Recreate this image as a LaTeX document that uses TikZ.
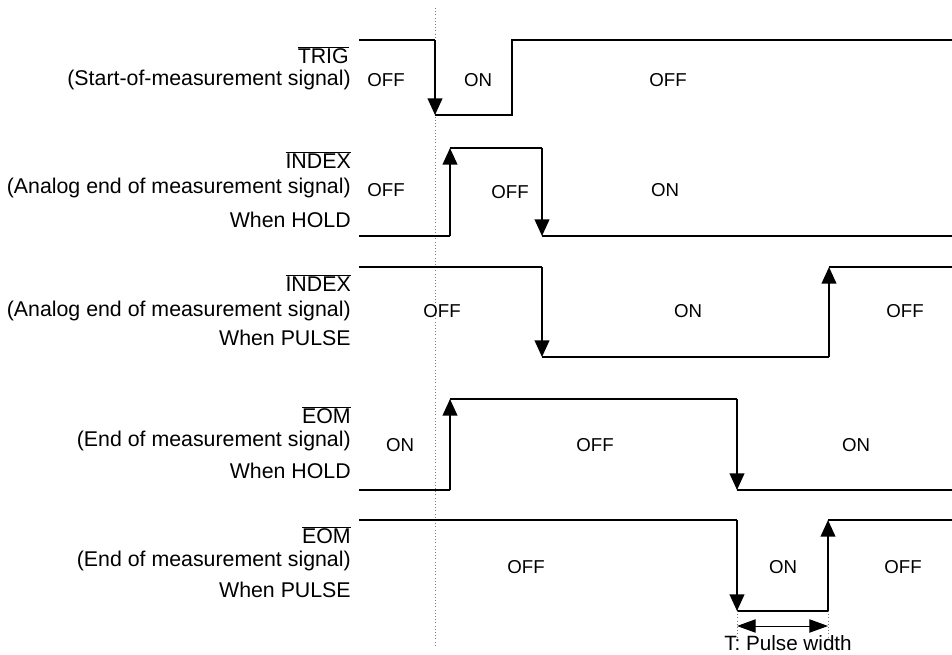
\documentclass[tikz,border=0pt]{standalone}
\usepackage{fontspec}
\setmainfont{Liberation Sans}
\usetikzlibrary{arrows.meta,positioning,calc}
\usepackage{xcolor}
\definecolor{Ink}{HTML}{000000}
\definecolor{Guide}{HTML}{7A7A7A}
\tikzset{
 wave/.style={draw=Ink, line width=1.5pt},
 edgearrow/.style={wave, -{Triangle[length=12.5pt,width=11pt]}},
 signame/.style={anchor=east, inner sep=0pt, font=\fontsize{16}{19}\selectfont},
 state/.style={inner sep=0pt, font=\fontsize{14}{16}\selectfont},
 guide/.style={draw=Guide, line width=0.4pt, dotted},
 dimarrow/.style={draw=Ink, line width=0.7pt, {Triangle[length=14pt,width=10pt]}-{Triangle[length=14pt,width=10pt]}}
}

\begin{document}
\begin{tikzpicture}[x=0.75pt,y=-0.75pt]
\useasboundingbox (0,0) rectangle (952,654);
% reference line at the trigger
\draw[guide] (435,8) -- (435,645);
% TRIG
\node[signame] (trig) at (349,55) {$\overline{\mbox{TRIG}}$};
\node[signame] (trigtxt) at (351,80) {(Start-of-measurement signal)};
\draw[wave] (359,40) -- (435,40);
\draw[edgearrow] (435,40) -- (435,115);
\draw[wave] (435,115) -- (512,115) -- (512,40) -- (952,40);
\node[state] (t1) at (386,80) {OFF};
\node[state] (t2) at (478,80) {ON};
\node[state] (t3) at (668,80) {OFF};
% INDEX, hold
\node[signame] (idxh) at (351,160) {$\overline{\mbox{INDEX}}$};
\node[signame] (idxhtxt) at (351,188) {(Analog end of measurement signal)};
\node[signame] (idxhmode) at (351,220) {When HOLD};
\draw[wave] (359,236) -- (450,236);
\draw[edgearrow] (450,236) -- (450,148);
\draw[wave] (450,148) -- (542,148);
\draw[edgearrow] (542,148) -- (542,236);
\draw[wave] (542,236) -- (952,236);
\node[state] (ih1) at (386,190) {OFF};
\node[state] (ih2) at (510,192) {OFF};
\node[state] (ih3) at (665,190) {ON};
% INDEX, pulse
\node[signame] (idxp) at (351,283) {$\overline{\mbox{INDEX}}$};
\node[signame] (idxptxt) at (351,311) {(Analog end of measurement signal)};
\node[signame] (idxpmode) at (351,338) {When PULSE};
\draw[wave] (359,267) -- (542,267);
\draw[edgearrow] (542,267) -- (542,357);
\draw[wave] (542,357) -- (829,357);
\draw[edgearrow] (829,357) -- (829,267);
\draw[wave] (829,267) -- (952,267);
\node[state] (ip1) at (442,311) {OFF};
\node[state] (ip2) at (688,311) {ON};
\node[state] (ip3) at (905,311) {OFF};
% EOM, hold
\node[signame] (eomh) at (351,415) {$\overline{\mbox{EOM}}$};
\node[signame] (eomhtxt) at (351,441) {(End of measurement signal)};
\node[signame] (eomhmode) at (351,471) {When HOLD};
\draw[wave] (359,490) -- (450,490);
\draw[edgearrow] (450,490) -- (450,399);
\draw[wave] (450,399) -- (737,399);
\draw[edgearrow] (737,399) -- (737,490);
\draw[wave] (737,490) -- (952,490);
\node[state] (eh1) at (400,445) {ON};
\node[state] (eh2) at (595,445) {OFF};
\node[state] (eh3) at (856,445) {ON};
% EOM, pulse
\node[signame] (eomp) at (351,535) {$\overline{\mbox{EOM}}$};
\node[signame] (eomptxt) at (351,561) {(End of measurement signal)};
\node[signame] (eompmode) at (351,590) {When PULSE};
\draw[wave] (359,520) -- (737,520);
\draw[edgearrow] (737,520) -- (737,611);
\draw[wave] (737,611) -- (828,611);
\draw[edgearrow] (828,611) -- (828,520);
\draw[wave] (828,520) -- (952,520);
\node[state] (ep1) at (526,567) {OFF};
\node[state] (ep2) at (783,567) {ON};
\node[state] (ep3) at (903,567) {OFF};
% pulse width
\coordinate (wl) at (737,626);
\coordinate (wr) at (828,626);
\draw[guide] (737,611) -- (737,637);\draw[guide] (828,611) -- (828,637);
\draw[dimarrow] (wl) -- (wr);
\node[inner sep=0pt, font=\fontsize{15.5}{18}\selectfont] (pw) at (788,643) {T: Pulse width};
\end{tikzpicture}
\end{document}
